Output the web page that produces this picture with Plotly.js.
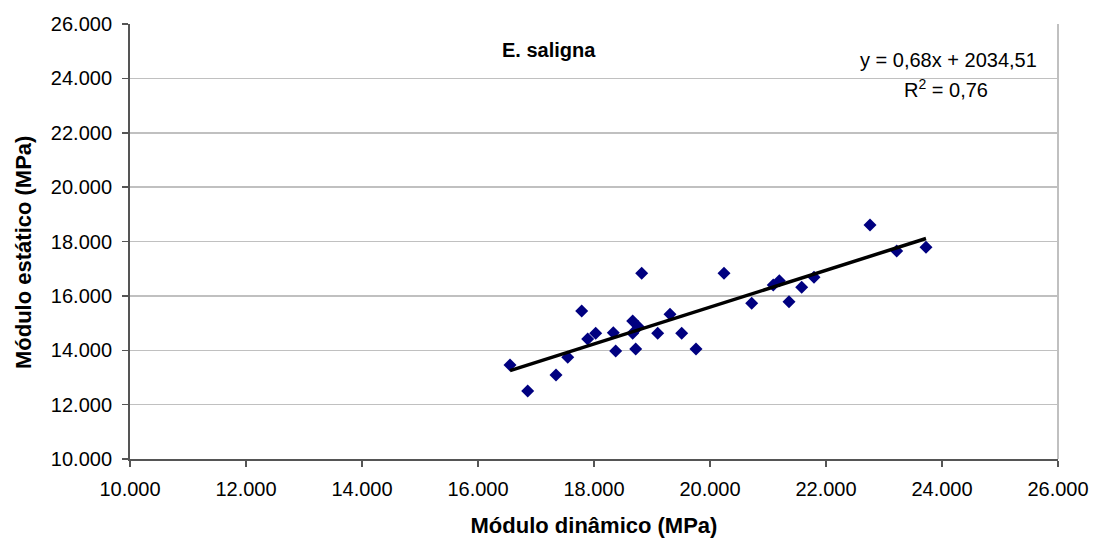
<!DOCTYPE html>
<html>
<head>
<meta charset="utf-8">
<script src="https://cdn.plot.ly/plotly-3.0.1.min.js"></script>
<style>
html,body{margin:0;padding:0;background:#fff;}
#chart{width:1099px;height:545px;}
</style>
</head>
<body>
<div id="chart"></div>
<script>
// Data
var moduloDinamico = [16552, 16857, 17345, 17547, 17788, 17891, 18029, 18333, 18374, 18667,
                      18667, 18764, 18719, 18822, 19098, 19310, 19512, 19759, 20241, 20719,
                      21091, 21195, 21362, 21581, 21793, 22759, 23219, 23724];
var moduloEstatico = [13457, 12501, 13089, 13740, 15443, 14413, 14623, 14645, 13972, 15075,
                      14623, 14866, 14046, 16830, 14623, 15322, 14623, 14046, 16830, 15726,
                      16399, 16558, 15785, 16315, 16683, 18606, 17650, 17786];
var trendX = [16552, 23724];
var trendY = [13250, 18110];
var tickVals = [10000, 12000, 14000, 16000, 18000, 20000, 22000, 24000, 26000];
var tickLabels = ["10.000", "12.000", "14.000", "16.000", "18.000", "20.000", "22.000", "24.000", "26.000"];
var seriesName = "E. saligna";
var equationText = "y = 0,68x + 2034,51";
var r2Text = "R<sup>2</sup> = 0,76";
var xTitle = "Módulo dinâmico (MPa)";
var yTitle = "Módulo estático (MPa)";

var FONT = "Liberation Sans, Arial, sans-serif";

var traces = [
  {
    x: moduloDinamico, y: moduloEstatico, type: "scatter", mode: "markers",
    marker: {symbol: "diamond", size: 10, color: "#000080", line: {width: 0}},
    showlegend: false, hoverinfo: "x+y"
  },
  {
    x: trendX, y: trendY, type: "scatter", mode: "lines",
    line: {color: "#000000", width: 3.5},
    showlegend: false, hoverinfo: "skip"
  }
];

var layout = {
  width: 1099, height: 545,
  margin: {l: 130, r: 41, t: 24, b: 86, pad: 0},
  paper_bgcolor: "#ffffff", plot_bgcolor: "#ffffff",
  font: {family: FONT, color: "#000000", size: 20},
  xaxis: {
    range: [10000, 26000], tickvals: tickVals, ticktext: tickLabels,
    showgrid: false, zeroline: false,
    showline: true, linecolor: "#555555", linewidth: 2,
    ticks: "outside", ticklen: 6, tickwidth: 1.5, tickcolor: "#555555",
    tickfont: {family: FONT, size: 20, color: "#000000"},
    ticklabelstandoff: 5,
    title: {text: "<b>" + xTitle + "</b>", font: {family: FONT, size: 22, color: "#000000"}, standoff: 19}
  },
  yaxis: {
    range: [10000, 26000], tickvals: tickVals, ticktext: tickLabels,
    showgrid: true, gridcolor: "#c0c0c0", gridwidth: 1.5, zeroline: false,
    showline: true, linecolor: "#555555", linewidth: 2,
    ticks: "outside", ticklen: 6, tickwidth: 1.5, tickcolor: "#555555",
    tickfont: {family: FONT, size: 20, color: "#000000"},
    ticklabelstandoff: 6
  },
  shapes: [
    {type: "line", xref: "paper", yref: "paper", x0: 1, x1: 1, y0: 0, y1: 1,
     line: {color: "#c0c0c0", width: 2}, layer: "below"}
  ],
  annotations: [
    {x: 0, y: 17576, xref: "paper", yref: "y", xshift: -107, text: "<b>" + yTitle + "</b>", showarrow: false,
     textangle: -90, xanchor: "center", yanchor: "middle", font: {family: FONT, size: 22, color: "#000000"}},
    {x: 16379, y: 25050, xref: "x", yref: "y", text: "<b>" + seriesName + "</b>", showarrow: false,
     xanchor: "left", yanchor: "middle", font: {family: FONT, size: 20, color: "#000000"}},
    {x: 25672, y: 24675, xref: "x", yref: "y", text: equationText, showarrow: false,
     xanchor: "right", yanchor: "middle", font: {family: FONT, size: 20, color: "#000000"}},
    {x: 24069, y: 23645, xref: "x", yref: "y", text: r2Text, showarrow: false,
     xanchor: "center", yanchor: "middle", font: {family: FONT, size: 20, color: "#000000"}}
  ]
};

Plotly.newPlot("chart", traces, layout, {displayModeBar: false, staticPlot: true});
</script>
</body>
</html>
